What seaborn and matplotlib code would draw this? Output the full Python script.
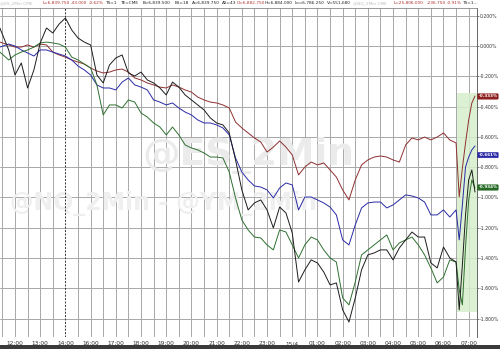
import numpy as np
import pandas as pd
import matplotlib
matplotlib.use("Agg")
import matplotlib.pyplot as plt
from matplotlib.patches import Rectangle
import seaborn as sns

# ---------------- data (session hours: 0 = 12:00, 15:00 hour skipped) ----------------
TIME_H = ([-0.6] + [i * 0.25 for i in range(-1, 70)]
          + [17.5, 17.625, 17.75, 17.875, 18.0, 18.125, 18.25])

ES = [0.026, 0.007, -0.007, -0.007, 0.007, -0.007, 0.013, 0.007, -0.040, -0.059,
      -0.073, -0.092, -0.106, -0.119, -0.145, -0.165, -0.178, -0.172, -0.158, -0.152,
      -0.172, -0.211, -0.224, -0.244, -0.257, -0.271, -0.277, -0.257, -0.271, -0.290,
      -0.304, -0.337, -0.356, -0.370, -0.376, -0.389, -0.409, -0.502, -0.541, -0.574,
      -0.607, -0.634, -0.700, -0.667, -0.627, -0.667, -0.719, -0.851, -0.799, -0.766,
      -0.785, -0.772, -0.818, -0.865, -0.950, -1.016, -0.884, -0.785, -0.752, -0.733,
      -0.726, -0.733, -0.752, -0.766, -0.653, -0.607, -0.620, -0.601, -0.620, -0.601,
      -0.574, -0.620,
      -0.640, -0.997, -0.805, -0.640, -0.488, -0.376, -0.330]

NQ = [-0.007, 0.013, 0.000, -0.026, -0.046, -0.066, -0.026, -0.026, -0.040, -0.053,
      -0.066, -0.092, -0.132, -0.158, -0.191, -0.257, -0.277, -0.277, -0.290, -0.238,
      -0.211, -0.257, -0.271, -0.290, -0.356, -0.370, -0.389, -0.376, -0.409, -0.436,
      -0.455, -0.488, -0.508, -0.508, -0.521, -0.541, -0.587, -0.739, -0.832, -0.884,
      -0.924, -0.931, -0.950, -1.003, -0.937, -0.904, -0.917, -1.082, -0.997, -0.997,
      -1.016, -1.036, -1.063, -1.115, -1.280, -1.313, -1.181, -1.069, -1.036, -1.030,
      -1.030, -1.069, -1.049, -1.016, -0.983, -0.990, -1.003, -1.030, -1.115, -1.115,
      -1.082, -1.129,
      -1.082, -1.280, -1.049, -0.799, -0.733, -0.686, -0.660]

YM = [-0.040, -0.092, -0.059, -0.040, -0.026, -0.007, 0.020, 0.026, 0.020, 0.013,
      -0.007, -0.073, -0.092, -0.119, -0.145, -0.257, -0.455, -0.389, -0.389, -0.409,
      -0.356, -0.370, -0.442, -0.469, -0.508, -0.535, -0.587, -0.535, -0.587, -0.653,
      -0.673, -0.686, -0.706, -0.733, -0.733, -0.739, -0.832, -1.003, -1.148, -1.214,
      -1.261, -1.267, -1.313, -1.346, -1.214, -1.228, -1.313, -1.399, -1.313, -1.261,
      -1.280, -1.346, -1.399, -1.426, -1.663, -1.709, -1.558, -1.379, -1.346, -1.313,
      -1.280, -1.247, -1.346, -1.300, -1.280, -1.261, -1.313, -1.379, -1.465, -1.564,
      -1.525, -1.412,
      -1.426, -1.610, -1.709, -1.327, -1.016, -0.884, -0.937]

RTY = [0.119, -0.026, -0.191, -0.112, -0.277, -0.158, 0.020, 0.119, 0.086, 0.145,
       0.185, 0.106, 0.053, 0.026, 0.007, -0.191, -0.244, -0.125, -0.079, -0.059,
       -0.178, -0.198, -0.172, -0.224, -0.244, -0.277, -0.323, -0.238, -0.271, -0.323,
       -0.356, -0.389, -0.422, -0.475, -0.508, -0.521, -0.574, -0.752, -0.950, -1.082,
       -1.036, -1.016, -1.082, -1.201, -1.063, -1.102, -1.234, -1.558, -1.478, -1.412,
       -1.432, -1.492, -1.577, -1.564, -1.742, -1.822, -1.663, -1.478, -1.379, -1.366,
       -1.346, -1.346, -1.412, -1.333, -1.280, -1.228, -1.261, -1.261, -1.432, -1.465,
       -1.327, -1.399,
       -1.426, -1.742, -1.445, -1.115, -0.884, -0.818, -0.964]

SERIES = ["ES", "NQ", "YM", "RTY"]
COLORS = {"ES": "#8e3030", "NQ": "#2a2aa6", "YM": "#2e7030", "RTY": "#1c1c1c"}

X_TICK_POS = list(range(0, 19))
X_TICK_LABELS = ["12:00", "13:00", "14:00", "16:00", "17:00", "18:00", "19:00", "20:00",
                 "21:00", "22:00", "23:00", "15/4", "01:00", "02:00", "03:00", "04:00",
                 "05:00", "06:00", "07:00"]
Y_TICKS = [0.2, 0.0, -0.2, -0.4, -0.6, -0.8, -1.0, -1.2, -1.4, -1.6, -1.8]

LAST_LABELS = [("-0.333%", -0.333, "#8e2020"), ("-0.661%", -0.72, "#2a2aa6"),
               ("-0.934%", -0.934, "#256a25")]

RED, BLK, GRY = "#b03030", "#222222", "#bdbdbd"
HEADER = [  # (left pixel, text, colour)
    (0, "@ES_2Min CME", GRY), (43, "L=6,839.750", RED), (71, "-43.000", RED),
    (89, "-0.62%", RED), (106, "TS=1", BLK), (121, "TE=CME", BLK),
    (143, "B=6,839.500", BLK), (175, "BS=18", BLK), (192, "A=6,839.750", BLK),
    (222, "AS=43", BLK), (237, "O=6,882.750", RED), (265, "H=6,884.000", BLK),
    (295, "Lo=6,786.250", BLK), (327, "V=551,680", BLK), (353, "@NQ_2Min CME", GRY),
    (394, "L=25,806.000", RED), (427, "-236.750", RED), (447, "-0.91%", RED),
    (463, "TS=1...", BLK),
]

df = pd.DataFrame({"t": TIME_H * 4,
                   "pct": ES + NQ + YM + RTY,
                   "sym": sum([[s] * len(TIME_H) for s in SERIES], [])})

# ---------------- figure ----------------
sns.set_style("white")
plt.rcParams["font.family"] = ["DejaVu Sans"]
fig = plt.figure(figsize=(5.0, 3.49), dpi=100)
ax = fig.add_axes([0.0, 12 / 349, 477 / 500, 329 / 349])

XMIN, XMAX = -0.595, 18.33
YMIN, YMAX = -1.921, 0.251
ax.set_xlim(XMIN, XMAX)
ax.set_ylim(YMIN, YMAX)

# grid
for xv in np.arange(-0.5, 18.4, 0.5):
    if abs(xv - 2.0) < 1e-6:
        continue
    ax.axvline(xv, color="#a8a8a8", lw=0.7, zorder=0)
ax.axvline(2.0, color="#333333", lw=0.7, ls=(0, (2, 1.5)), zorder=1)
for yv in Y_TICKS:
    ax.axhline(yv, color="#a8a8a8", lw=0.7, zorder=0)

# watermark
ax.text(0.52, (337 - 155) / 329, "@ES_2Min", transform=ax.transAxes, ha="center",
        va="center", fontsize=27, fontweight="bold", color="#ebebeb", zorder=0.5)
ax.text(10 / 478, (337 - 203) / 329, "@NQ_2Min - @YM_2Min", transform=ax.transAxes,
        ha="left", va="center", fontsize=17, fontweight="bold", color="#efefef", zorder=0.5)

# green highlight
ax.add_patch(Rectangle((17.54, -1.756), XMAX - 17.54, 1.446, facecolor="#d6efcc",
                       edgecolor="none", alpha=0.85, zorder=0.6))

sns.lineplot(data=df, x="t", y="pct", hue="sym", hue_order=SERIES, palette=COLORS,
             lw=0.7, legend=False, ax=ax, zorder=3)

ax.set_xlabel("")
ax.set_ylabel("")
ax.set_xticks(X_TICK_POS)
ax.set_xticklabels(X_TICK_LABELS)
ax.tick_params(axis="x", length=0, labelsize=4.2, pad=4.5, colors="#333333")
for lab in ax.get_xticklabels():
    lab.set_verticalalignment("center_baseline")
ax.yaxis.tick_right()
ax.set_yticks(Y_TICKS)
ax.set_yticklabels([f"{v:.3f}%" for v in Y_TICKS])
ax.tick_params(axis="y", length=1.2, width=0.5, labelsize=3.35, pad=0.5, colors="#444444")
for lab in ax.get_yticklabels():
    lab.set_color("#333333")
for side in ["left", "bottom"]:
    ax.spines[side].set_visible(False)
ax.spines["right"].set_color("#666666")
ax.spines["right"].set_linewidth(0.7)
ax.spines["top"].set_color("#888888")
ax.spines["top"].set_linewidth(0.6)

# last value labels
for txt, yv, col in LAST_LABELS:
    ax.annotate(txt, xy=(1.0, yv), xycoords=("axes fraction", "data"),
                xytext=(1.0, 0), textcoords="offset points", ha="left", va="center",
                fontsize=3.0, color="white", fontweight="bold",
                bbox=dict(boxstyle="round,pad=0.18", fc=col, ec=col, lw=0.3),
                annotation_clip=False, zorder=5)

# header line
for px, txt, col in HEADER:
    fig.text(px / 500, 1 - 3.5 / 349, txt, fontsize=3.1, color=col, ha="left", va="center")

# bottom bar
fig.patches.append(Rectangle((0, 0), 1, 4 / 349, transform=fig.transFigure,
                             facecolor="#3a3a3a", edgecolor="none"))

fig.savefig("out.png", dpi=100)
